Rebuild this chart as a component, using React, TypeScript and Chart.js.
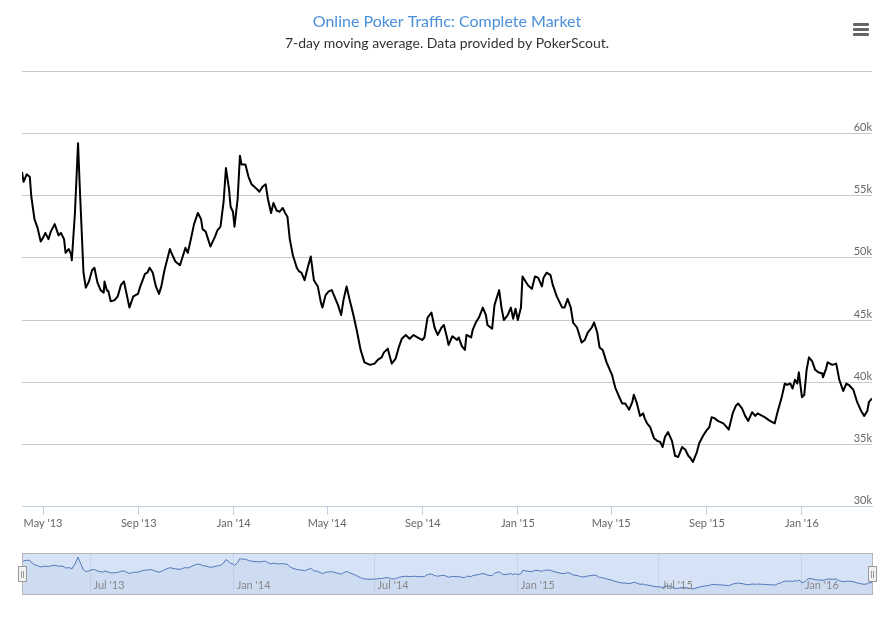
import React, { useEffect, useRef } from 'react';
import { Chart, registerables } from 'chart.js';

Chart.register(...registerables);

const TITLE = 'Online Poker Traffic: Complete Market';
const SUBTITLE = '7-day moving average. Data provided by PokerScout.';

const dates = [
  '2013-04-04','2013-04-06','2013-04-10','2013-04-14','2013-04-16','2013-04-20','2013-04-24','2013-04-28',
  '2013-05-01','2013-05-04','2013-05-08','2013-05-11','2013-05-16','2013-05-21','2013-05-24','2013-05-28','2013-05-30',
  '2013-06-03','2013-06-06','2013-06-07','2013-06-11','2013-06-15','2013-06-17','2013-06-22','2013-06-25','2013-06-29',
  '2013-07-03','2013-07-06','2013-07-10','2013-07-14','2013-07-18','2013-07-19','2013-07-22','2013-07-24','2013-07-27',
  '2013-08-01','2013-08-05','2013-08-09','2013-08-13','2013-08-15','2013-08-20','2013-08-25','2013-08-31',
  '2013-09-03','2013-09-09','2013-09-12','2013-09-15','2013-09-19','2013-09-23','2013-09-27','2013-09-30',
  '2013-10-04','2013-10-11','2013-10-13','2013-10-18','2013-10-24','2013-10-27','2013-10-31',
  '2013-11-03','2013-11-07','2013-11-11','2013-11-16','2013-11-20','2013-11-22','2013-11-26',
  '2013-12-02','2013-12-08','2013-12-11','2013-12-15','2013-12-19','2013-12-22','2013-12-26','2013-12-28','2013-12-31',
  '2014-01-02','2014-01-06','2014-01-09','2014-01-11','2014-01-16','2014-01-20','2014-01-24','2014-01-31',
  '2014-02-03','2014-02-07','2014-02-11','2014-02-14','2014-02-18','2014-02-21','2014-02-25',
  '2014-03-01','2014-03-05','2014-03-08','2014-03-11','2014-03-14','2014-03-18','2014-03-23','2014-03-26','2014-03-29',
  '2014-04-02','2014-04-06','2014-04-10','2014-04-14','2014-04-19','2014-04-23','2014-04-25','2014-04-29',
  '2014-05-03','2014-05-07','2014-05-11','2014-05-15','2014-05-19','2014-05-22','2014-05-26','2014-05-30',
  '2014-06-03','2014-06-08','2014-06-13','2014-06-18','2014-06-25',
  '2014-07-01','2014-07-05','2014-07-10','2014-07-13','2014-07-18','2014-07-20','2014-07-23','2014-07-28',
  '2014-08-01','2014-08-05','2014-08-10','2014-08-15','2014-08-20','2014-08-25','2014-08-31',
  '2014-09-03','2014-09-07','2014-09-12','2014-09-16','2014-09-20','2014-09-25','2014-09-28',
  '2014-10-02','2014-10-04','2014-10-09','2014-10-15','2014-10-17','2014-10-21','2014-10-25','2014-10-27',
  '2014-11-02','2014-11-04','2014-11-08','2014-11-12','2014-11-17','2014-11-21','2014-11-23','2014-11-29',
  '2014-12-02','2014-12-08','2014-12-11','2014-12-14','2014-12-19','2014-12-23','2014-12-26','2014-12-29',
  '2015-01-01','2015-01-05','2015-01-07','2015-01-11','2015-01-14','2015-01-19','2015-01-23','2015-01-27',
  '2015-02-01','2015-02-03','2015-02-07','2015-02-12','2015-02-15','2015-02-20','2015-02-27',
  '2015-03-02','2015-03-06','2015-03-10','2015-03-13','2015-03-18','2015-03-24','2015-03-28',
  '2015-04-01','2015-04-06','2015-04-09','2015-04-13','2015-04-16','2015-04-20','2015-04-25',
  '2015-05-02','2015-05-06','2015-05-10','2015-05-15','2015-05-19','2015-05-24','2015-05-28','2015-05-30',
  '2015-06-03','2015-06-07','2015-06-11','2015-06-13','2015-06-16','2015-06-20','2015-06-25','2015-06-29',
  '2015-07-03','2015-07-06','2015-07-09','2015-07-13','2015-07-18','2015-07-22','2015-07-26','2015-07-31',
  '2015-08-04','2015-08-08','2015-08-11','2015-08-14','2015-08-19','2015-08-22','2015-08-27','2015-08-31',
  '2015-09-04','2015-09-07','2015-09-11','2015-09-15','2015-09-22','2015-09-25','2015-09-29',
  '2015-10-04','2015-10-08','2015-10-11','2015-10-16','2015-10-20','2015-10-24','2015-10-29',
  '2015-11-02','2015-11-05','2015-11-11','2015-11-14','2015-11-21','2015-11-27',
  '2015-12-01','2015-12-06','2015-12-10','2015-12-13','2015-12-17','2015-12-20','2015-12-23','2015-12-26','2015-12-28',
  '2016-01-01','2016-01-04','2016-01-07','2016-01-10','2016-01-14','2016-01-18','2016-01-22','2016-01-27','2016-01-28',
  '2016-02-01','2016-02-03','2016-02-09','2016-02-14','2016-02-18','2016-02-23','2016-02-27',
  '2016-03-01','2016-03-07','2016-03-12','2016-03-17','2016-03-21','2016-03-25','2016-03-27','2016-03-31',
];

const players = [
  56900,56100,56700,56500,54900,53100,52400,51300,
  51600,52000,51500,52100,52700,51800,52000,51500,50400,
  50700,50300,49800,53600,59200,56000,48800,47600,48100,
  49000,49200,48000,47400,47200,48100,47400,47300,46500,
  46600,46900,47800,48100,47500,46000,46900,47100,
  47700,48700,48800,49200,48800,47700,47100,47700,
  49000,50700,50400,49700,49400,50000,50800,
  50400,51500,52700,53600,53100,52300,52100,
  50900,51700,52200,52500,54500,57200,55500,54100,53700,
  52500,54700,58200,57500,57500,56500,55900,55500,
  55300,55700,55900,54700,53600,54400,53800,
  53700,54000,53600,53300,51500,50200,49200,48900,48800,
  48200,49200,50100,48200,47700,46400,46000,47000,
  47300,47400,46800,46200,45400,46600,47700,46600,
  45600,44200,42600,41600,41400,
  41500,41800,42000,42400,42700,42200,41500,41900,
  42800,43500,43800,43500,43800,43600,43400,
  43600,45200,45600,44400,43800,44400,44600,
  43600,43000,43700,43400,43600,42900,42600,43800,
  43600,44200,44800,45200,46000,45400,44600,44300,
  46200,47400,46000,45000,45400,46000,45100,45900,
  45000,46000,48500,48100,47800,47500,48500,48400,
  47700,48400,48800,48600,47800,46900,46000,
  46000,46700,46000,44800,44400,43200,43400,
  44000,44400,44800,44000,42800,42600,41600,
  40600,39600,39000,38300,38300,37800,38400,39000,
  38300,37300,37500,37100,36700,36400,35500,35300,
  35200,34800,35600,36000,35300,34100,34000,34800,
  34600,34100,33900,33600,34400,35100,35700,36100,
  36400,37200,37100,36900,36700,36500,36200,
  37500,38100,38300,37900,37300,36900,37600,
  37300,37500,37300,37200,36900,36700,
  37700,38800,39900,39800,39900,39500,40200,39900,40800,
  38800,39000,41000,42000,41700,41000,40800,40700,40400,
  41100,41600,41400,41500,40200,39300,39900,
  39800,39400,38400,37700,37300,37700,38400,38700,
];

const xTickDates = ['2013-05-01','2013-09-01','2014-01-01','2014-05-01','2014-09-01','2015-01-01','2015-05-01','2015-09-01','2016-01-01'];
const xTickLabels = ["May '13","Sep '13","Jan '14","May '14","Sep '14","Jan '15","May '15","Sep '15","Jan '16"];

const yTickValues = [30000,35000,40000,45000,50000,55000,60000,65000];
const yTickLabels = ['30k','35k','40k','45k','50k','55k','60k',''];

const navTickDates = ['2013-07-01','2014-01-01','2014-07-01','2015-01-01','2015-07-01','2016-01-01'];
const navTickLabels = ["Jul '13","Jan '14","Jul '14","Jan '15","Jul '15","Jan '16"];

const FONT = 'Lato, "Open Sans", sans-serif';

export default function App() {
  const mainRef = useRef<HTMLCanvasElement>(null);
  const navRef = useRef<HTMLCanvasElement>(null);

  useEffect(() => {
    const pts = dates.map((d, i) => ({ x: Date.parse(d), y: players[i] }));
    const xMin = pts[0].x;
    const xMax = pts[pts.length - 1].x;
    const xTickVals = xTickDates.map((d) => Date.parse(d));
    const navTickVals = navTickDates.map((d) => Date.parse(d));

    const main = new Chart(mainRef.current as HTMLCanvasElement, {
      type: 'line',
      data: {
        datasets: [{
          data: pts,
          borderColor: '#000000',
          borderWidth: 2,
          pointRadius: 0,
          tension: 0,
          fill: false,
          borderJoinStyle: 'round',
        }],
      },
      options: {
        animation: false,
        responsive: false,
        parsing: false,
        layout: { padding: { left: 22, right: 11, top: 0, bottom: 8 } },
        plugins: {
          legend: { display: false },
          tooltip: { enabled: false },
          title: {
            display: true,
            text: TITLE,
            color: '#4a90d9',
            font: { family: FONT, size: 16, weight: 'normal' },
            padding: { top: 12, bottom: 3 },
          },
          subtitle: {
            display: true,
            text: SUBTITLE,
            color: '#333333',
            font: { family: FONT, size: 14, weight: 'normal' },
            padding: { top: 1, bottom: 19 },
          },
        },
        scales: {
          x: {
            type: 'linear',
            bounds: 'data',
            min: xMin,
            max: xMax,
            afterBuildTicks: (s: any) => { s.ticks = xTickVals.map((v) => ({ value: v })); },
            ticks: {
              autoSkip: false,
              maxRotation: 0,
              padding: 2,
              color: '#666666',
              font: { family: FONT, size: 11 },
              callback: (v: any) => xTickLabels[xTickVals.indexOf(v)] ?? '',
            },
            grid: { drawOnChartArea: false, tickLength: 8, color: '#C0D0E0' },
            border: { color: '#C0D0E0' },
          },
          y: {
            position: 'right',
            min: 30000,
            max: 65000,
            afterBuildTicks: (s: any) => { s.ticks = yTickValues.map((v) => ({ value: v })); },
            ticks: {
              mirror: true,
              padding: 0,
              labelOffset: -6,
              color: '#666666',
              font: { family: FONT, size: 11 },
              callback: (v: any) => yTickLabels[yTickValues.indexOf(v)] ?? '',
            },
            grid: { color: '#C8C8C8', drawTicks: false },
            border: { display: false },
          },
        },
      },
    });

    const navPlugin = {
      id: 'navDecor',
      beforeDraw(chart: any) {
        const { ctx, chartArea: a } = chart;
        ctx.save();
        ctx.fillStyle = '#D6E3F6';
        ctx.fillRect(a.left, a.top, a.right - a.left, a.bottom - a.top);
        ctx.restore();
      },
      afterDraw(chart: any) {
        const { ctx, chartArea: a } = chart;
        const xs = chart.scales.x;
        ctx.save();
        ctx.font = `11px ${FONT}`;
        ctx.fillStyle = '#888888';
        ctx.textAlign = 'left';
        ctx.textBaseline = 'alphabetic';
        navTickVals.forEach((v, i) => {
          ctx.fillText(navTickLabels[i], xs.getPixelForValue(v) + 3, a.bottom - 5);
        });
        ctx.strokeStyle = '#B5B5B8';
        ctx.lineWidth = 1;
        ctx.strokeRect(Math.round(a.left) + 0.5, Math.round(a.top) + 0.5, Math.round(a.right - a.left), Math.round(a.bottom - a.top));
        const midY = Math.round((a.top + a.bottom) / 2);
        [a.left, a.right].forEach((hx: number) => {
          const x0 = Math.round(hx) - 4;
          ctx.fillStyle = '#F2F2F2';
          ctx.fillRect(x0 + 0.5, midY - 7.5, 8, 15);
          ctx.strokeStyle = '#999999';
          ctx.strokeRect(x0 + 0.5, midY - 7.5, 8, 15);
          ctx.beginPath();
          ctx.moveTo(x0 + 3.5, midY - 3);
          ctx.lineTo(x0 + 3.5, midY + 4);
          ctx.moveTo(x0 + 5.5, midY - 3);
          ctx.lineTo(x0 + 5.5, midY + 4);
          ctx.stroke();
        });
        ctx.restore();
      },
    };

    const nav = new Chart(navRef.current as HTMLCanvasElement, {
      type: 'line',
      data: {
        datasets: [{
          data: pts,
          borderColor: '#5577BB',
          borderWidth: 1,
          pointRadius: 0,
          tension: 0,
          fill: 'start',
          backgroundColor: 'rgba(51,92,173,0.05)',
        }],
      },
      options: {
        animation: false,
        responsive: false,
        parsing: false,
        layout: { padding: { left: 22, right: 11, top: 13, bottom: 23 } },
        plugins: {
          legend: { display: false },
          tooltip: { enabled: false },
          title: { display: false },
        },
        scales: {
          x: {
            type: 'linear',
            bounds: 'data',
            min: xMin,
            max: xMax,
            afterBuildTicks: (s: any) => { s.ticks = navTickVals.map((v) => ({ value: v })); },
            ticks: { display: false },
            grid: { color: '#C9D3E4', drawTicks: false },
            border: { display: false },
          },
          y: { display: false, min: 29500, max: 62500 },
        },
      },
      plugins: [navPlugin],
    });

    return () => {
      main.destroy();
      nav.destroy();
    };
  }, []);

  const bar = (top: number) => ({
    position: 'absolute' as const,
    left: 853,
    top,
    width: 16,
    height: 3,
    background: '#666666',
    borderRadius: 1,
  });

  return (
    <div style={{ position: 'absolute', left: 0, top: 0, width: 883, height: 617, background: '#ffffff', overflow: 'hidden' }}>
      <canvas ref={mainRef} width={883} height={540} style={{ position: 'absolute', left: 0, top: 0, width: 883, height: 540 }} />
      <canvas ref={navRef} width={883} height={77} style={{ position: 'absolute', left: 0, top: 540, width: 883, height: 77 }} />
      <div style={bar(23)} />
      <div style={bar(28)} />
      <div style={bar(33)} />
    </div>
  );
}
